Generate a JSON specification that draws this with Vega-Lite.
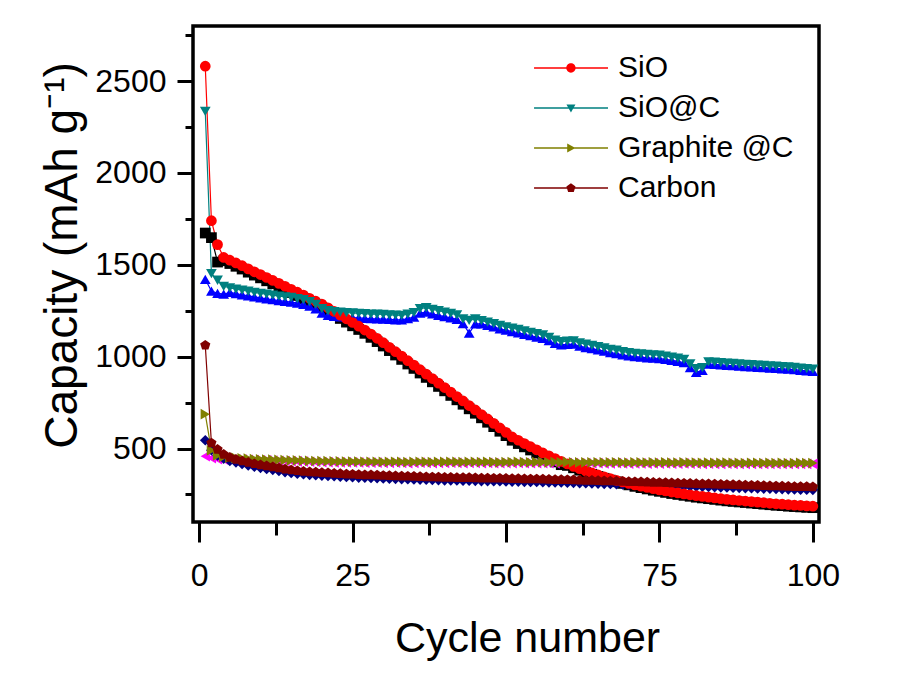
{
"$schema":"https://vega.github.io/schema/vega-lite/v6.json",
"width":626,"height":496,
"autosize":"none",
"padding":{"left":193,"top":26,"right":90,"bottom":162},
"background":"white",
"config":{
"view":{"stroke":"black","strokeWidth":3.5},
"font":"Liberation Sans",
"axis":{"domain":false,"grid":false,"tickColor":"black","tickWidth":3,"labelColor":"black","titleColor":"black","labelFont":"Liberation Sans","titleFont":"Liberation Sans","titleFontWeight":"normal"}
},
"data":{"values":[
{"s":"SiO-ch","c":1,"v":1673},{"s":"SiO-ch","c":2,"v":1648},{"s":"SiO-ch","c":3,"v":1515},{"s":"SiO-ch","c":4,"v":1522},{"s":"SiO-ch","c":5,"v":1507},{"s":"SiO-ch","c":6,"v":1492},{"s":"SiO-ch","c":7,"v":1477},{"s":"SiO-ch","c":8,"v":1460},{"s":"SiO-ch","c":9,"v":1444},{"s":"SiO-ch","c":10,"v":1429},
{"s":"SiO-ch","c":11,"v":1413},{"s":"SiO-ch","c":12,"v":1397},{"s":"SiO-ch","c":13,"v":1381},{"s":"SiO-ch","c":14,"v":1365},{"s":"SiO-ch","c":15,"v":1349},{"s":"SiO-ch","c":16,"v":1333},{"s":"SiO-ch","c":17,"v":1317},{"s":"SiO-ch","c":18,"v":1300},{"s":"SiO-ch","c":19,"v":1284},{"s":"SiO-ch","c":20,"v":1268},
{"s":"SiO-ch","c":21,"v":1248},{"s":"SiO-ch","c":22,"v":1228},{"s":"SiO-ch","c":23,"v":1208},{"s":"SiO-ch","c":24,"v":1188},{"s":"SiO-ch","c":25,"v":1168},{"s":"SiO-ch","c":26,"v":1148},{"s":"SiO-ch","c":27,"v":1127},{"s":"SiO-ch","c":28,"v":1105},{"s":"SiO-ch","c":29,"v":1082},{"s":"SiO-ch","c":30,"v":1058},
{"s":"SiO-ch","c":31,"v":1033},{"s":"SiO-ch","c":32,"v":1009},{"s":"SiO-ch","c":33,"v":985},{"s":"SiO-ch","c":34,"v":960},{"s":"SiO-ch","c":35,"v":936},{"s":"SiO-ch","c":36,"v":911},{"s":"SiO-ch","c":37,"v":887},{"s":"SiO-ch","c":38,"v":863},{"s":"SiO-ch","c":39,"v":838},{"s":"SiO-ch","c":40,"v":814},
{"s":"SiO-ch","c":41,"v":789},{"s":"SiO-ch","c":42,"v":765},{"s":"SiO-ch","c":43,"v":741},{"s":"SiO-ch","c":44,"v":716},{"s":"SiO-ch","c":45,"v":692},{"s":"SiO-ch","c":46,"v":667},{"s":"SiO-ch","c":47,"v":643},{"s":"SiO-ch","c":48,"v":619},{"s":"SiO-ch","c":49,"v":594},{"s":"SiO-ch","c":50,"v":570},
{"s":"SiO-ch","c":51,"v":545},{"s":"SiO-ch","c":52,"v":527},{"s":"SiO-ch","c":53,"v":509},{"s":"SiO-ch","c":54,"v":492},{"s":"SiO-ch","c":55,"v":475},{"s":"SiO-ch","c":56,"v":458},{"s":"SiO-ch","c":57,"v":442},{"s":"SiO-ch","c":58,"v":427},{"s":"SiO-ch","c":59,"v":412},{"s":"SiO-ch","c":60,"v":408},
{"s":"SiO-ch","c":61,"v":395},{"s":"SiO-ch","c":62,"v":382},{"s":"SiO-ch","c":63,"v":370},{"s":"SiO-ch","c":64,"v":359},{"s":"SiO-ch","c":65,"v":348},{"s":"SiO-ch","c":66,"v":338},{"s":"SiO-ch","c":67,"v":328},{"s":"SiO-ch","c":68,"v":319},{"s":"SiO-ch","c":69,"v":310},{"s":"SiO-ch","c":70,"v":302},
{"s":"SiO-ch","c":71,"v":294},{"s":"SiO-ch","c":72,"v":287},{"s":"SiO-ch","c":73,"v":280},{"s":"SiO-ch","c":74,"v":273},{"s":"SiO-ch","c":75,"v":267},{"s":"SiO-ch","c":76,"v":261},{"s":"SiO-ch","c":77,"v":255},{"s":"SiO-ch","c":78,"v":250},{"s":"SiO-ch","c":79,"v":245},{"s":"SiO-ch","c":80,"v":240},
{"s":"SiO-ch","c":81,"v":235},{"s":"SiO-ch","c":82,"v":231},{"s":"SiO-ch","c":83,"v":227},{"s":"SiO-ch","c":84,"v":223},{"s":"SiO-ch","c":85,"v":219},{"s":"SiO-ch","c":86,"v":215},{"s":"SiO-ch","c":87,"v":212},{"s":"SiO-ch","c":88,"v":209},{"s":"SiO-ch","c":89,"v":206},{"s":"SiO-ch","c":90,"v":203},
{"s":"SiO-ch","c":91,"v":200},{"s":"SiO-ch","c":92,"v":197},{"s":"SiO-ch","c":93,"v":194},{"s":"SiO-ch","c":94,"v":191},{"s":"SiO-ch","c":95,"v":189},{"s":"SiO-ch","c":96,"v":186},{"s":"SiO-ch","c":97,"v":184},{"s":"SiO-ch","c":98,"v":182},{"s":"SiO-ch","c":99,"v":180},{"s":"SiO-ch","c":100,"v":178},
{"s":"SiO@C-ch","c":1,"v":1421},{"s":"SiO@C-ch","c":2,"v":1357},{"s":"SiO@C-ch","c":3,"v":1345},{"s":"SiO@C-ch","c":4,"v":1340},{"s":"SiO@C-ch","c":5,"v":1350},{"s":"SiO@C-ch","c":6,"v":1343},{"s":"SiO@C-ch","c":7,"v":1337},{"s":"SiO@C-ch","c":8,"v":1331},{"s":"SiO@C-ch","c":9,"v":1325},{"s":"SiO@C-ch","c":10,"v":1320},
{"s":"SiO@C-ch","c":11,"v":1315},{"s":"SiO@C-ch","c":12,"v":1310},{"s":"SiO@C-ch","c":13,"v":1305},{"s":"SiO@C-ch","c":14,"v":1301},{"s":"SiO@C-ch","c":15,"v":1297},{"s":"SiO@C-ch","c":16,"v":1291},{"s":"SiO@C-ch","c":17,"v":1285},{"s":"SiO@C-ch","c":18,"v":1275},{"s":"SiO@C-ch","c":19,"v":1260},{"s":"SiO@C-ch","c":20,"v":1237},
{"s":"SiO@C-ch","c":21,"v":1225},{"s":"SiO@C-ch","c":22,"v":1220},{"s":"SiO@C-ch","c":23,"v":1217},{"s":"SiO@C-ch","c":24,"v":1215},{"s":"SiO@C-ch","c":25,"v":1213},{"s":"SiO@C-ch","c":26,"v":1211},{"s":"SiO@C-ch","c":27,"v":1209},{"s":"SiO@C-ch","c":28,"v":1207},{"s":"SiO@C-ch","c":29,"v":1206},{"s":"SiO@C-ch","c":30,"v":1205},
{"s":"SiO@C-ch","c":31,"v":1203},{"s":"SiO@C-ch","c":32,"v":1201},{"s":"SiO@C-ch","c":33,"v":1200},{"s":"SiO@C-ch","c":34,"v":1207},{"s":"SiO@C-ch","c":35,"v":1215},{"s":"SiO@C-ch","c":36,"v":1237},{"s":"SiO@C-ch","c":37,"v":1242},{"s":"SiO@C-ch","c":38,"v":1233},{"s":"SiO@C-ch","c":39,"v":1225},{"s":"SiO@C-ch","c":40,"v":1218},
{"s":"SiO@C-ch","c":41,"v":1211},{"s":"SiO@C-ch","c":42,"v":1203},{"s":"SiO@C-ch","c":43,"v":1180},{"s":"SiO@C-ch","c":44,"v":1128},{"s":"SiO@C-ch","c":45,"v":1178},{"s":"SiO@C-ch","c":46,"v":1178},{"s":"SiO@C-ch","c":47,"v":1170},{"s":"SiO@C-ch","c":48,"v":1162},{"s":"SiO@C-ch","c":49,"v":1152},{"s":"SiO@C-ch","c":50,"v":1144},
{"s":"SiO@C-ch","c":51,"v":1137},{"s":"SiO@C-ch","c":52,"v":1130},{"s":"SiO@C-ch","c":53,"v":1122},{"s":"SiO@C-ch","c":54,"v":1114},{"s":"SiO@C-ch","c":55,"v":1107},{"s":"SiO@C-ch","c":56,"v":1100},{"s":"SiO@C-ch","c":57,"v":1087},{"s":"SiO@C-ch","c":58,"v":1072},{"s":"SiO@C-ch","c":59,"v":1064},{"s":"SiO@C-ch","c":60,"v":1067},
{"s":"SiO@C-ch","c":61,"v":1068},{"s":"SiO@C-ch","c":62,"v":1057},{"s":"SiO@C-ch","c":63,"v":1050},{"s":"SiO@C-ch","c":64,"v":1044},{"s":"SiO@C-ch","c":65,"v":1037},{"s":"SiO@C-ch","c":66,"v":1030},{"s":"SiO@C-ch","c":67,"v":1022},{"s":"SiO@C-ch","c":68,"v":1017},{"s":"SiO@C-ch","c":69,"v":1010},{"s":"SiO@C-ch","c":70,"v":1004},
{"s":"SiO@C-ch","c":71,"v":1000},{"s":"SiO@C-ch","c":72,"v":997},{"s":"SiO@C-ch","c":73,"v":994},{"s":"SiO@C-ch","c":74,"v":992},{"s":"SiO@C-ch","c":75,"v":990},{"s":"SiO@C-ch","c":76,"v":985},{"s":"SiO@C-ch","c":77,"v":980},{"s":"SiO@C-ch","c":78,"v":974},{"s":"SiO@C-ch","c":79,"v":967},{"s":"SiO@C-ch","c":80,"v":940},
{"s":"SiO@C-ch","c":81,"v":915},{"s":"SiO@C-ch","c":82,"v":925},{"s":"SiO@C-ch","c":83,"v":960},{"s":"SiO@C-ch","c":84,"v":958},{"s":"SiO@C-ch","c":85,"v":956},{"s":"SiO@C-ch","c":86,"v":953},{"s":"SiO@C-ch","c":87,"v":951},{"s":"SiO@C-ch","c":88,"v":948},{"s":"SiO@C-ch","c":89,"v":946},{"s":"SiO@C-ch","c":90,"v":944},
{"s":"SiO@C-ch","c":91,"v":942},{"s":"SiO@C-ch","c":92,"v":940},{"s":"SiO@C-ch","c":93,"v":938},{"s":"SiO@C-ch","c":94,"v":936},{"s":"SiO@C-ch","c":95,"v":934},{"s":"SiO@C-ch","c":96,"v":932},{"s":"SiO@C-ch","c":97,"v":929},{"s":"SiO@C-ch","c":98,"v":926},{"s":"SiO@C-ch","c":99,"v":923},{"s":"SiO@C-ch","c":100,"v":920},
{"s":"Graphite @C-ch","c":1,"v":458},{"s":"Graphite @C-ch","c":2,"v":448},{"s":"Graphite @C-ch","c":3,"v":442},{"s":"Graphite @C-ch","c":4,"v":440},{"s":"Graphite @C-ch","c":5,"v":440},{"s":"Graphite @C-ch","c":6,"v":440},{"s":"Graphite @C-ch","c":7,"v":439},{"s":"Graphite @C-ch","c":8,"v":438},{"s":"Graphite @C-ch","c":9,"v":437},{"s":"Graphite @C-ch","c":10,"v":436},
{"s":"Graphite @C-ch","c":11,"v":435},{"s":"Graphite @C-ch","c":12,"v":434},{"s":"Graphite @C-ch","c":13,"v":433},{"s":"Graphite @C-ch","c":14,"v":432},{"s":"Graphite @C-ch","c":15,"v":431},{"s":"Graphite @C-ch","c":16,"v":430},{"s":"Graphite @C-ch","c":17,"v":429},{"s":"Graphite @C-ch","c":18,"v":428},{"s":"Graphite @C-ch","c":19,"v":427},{"s":"Graphite @C-ch","c":20,"v":426},
{"s":"Graphite @C-ch","c":21,"v":426},{"s":"Graphite @C-ch","c":22,"v":425},{"s":"Graphite @C-ch","c":23,"v":425},{"s":"Graphite @C-ch","c":24,"v":424},{"s":"Graphite @C-ch","c":25,"v":424},{"s":"Graphite @C-ch","c":26,"v":424},{"s":"Graphite @C-ch","c":27,"v":423},{"s":"Graphite @C-ch","c":28,"v":423},{"s":"Graphite @C-ch","c":29,"v":423},{"s":"Graphite @C-ch","c":30,"v":422},
{"s":"Graphite @C-ch","c":31,"v":422},{"s":"Graphite @C-ch","c":32,"v":423},{"s":"Graphite @C-ch","c":33,"v":422},{"s":"Graphite @C-ch","c":34,"v":421},{"s":"Graphite @C-ch","c":35,"v":422},{"s":"Graphite @C-ch","c":36,"v":423},{"s":"Graphite @C-ch","c":37,"v":422},{"s":"Graphite @C-ch","c":38,"v":421},{"s":"Graphite @C-ch","c":39,"v":422},{"s":"Graphite @C-ch","c":40,"v":422},
{"s":"Graphite @C-ch","c":41,"v":423},{"s":"Graphite @C-ch","c":42,"v":422},{"s":"Graphite @C-ch","c":43,"v":421},{"s":"Graphite @C-ch","c":44,"v":422},{"s":"Graphite @C-ch","c":45,"v":422},{"s":"Graphite @C-ch","c":46,"v":421},{"s":"Graphite @C-ch","c":47,"v":422},{"s":"Graphite @C-ch","c":48,"v":421},{"s":"Graphite @C-ch","c":49,"v":420},{"s":"Graphite @C-ch","c":50,"v":421},
{"s":"Graphite @C-ch","c":51,"v":421},{"s":"Graphite @C-ch","c":52,"v":422},{"s":"Graphite @C-ch","c":53,"v":421},{"s":"Graphite @C-ch","c":54,"v":420},{"s":"Graphite @C-ch","c":55,"v":421},{"s":"Graphite @C-ch","c":56,"v":421},{"s":"Graphite @C-ch","c":57,"v":420},{"s":"Graphite @C-ch","c":58,"v":421},{"s":"Graphite @C-ch","c":59,"v":420},{"s":"Graphite @C-ch","c":60,"v":421},
{"s":"Graphite @C-ch","c":61,"v":420},{"s":"Graphite @C-ch","c":62,"v":419},{"s":"Graphite @C-ch","c":63,"v":420},{"s":"Graphite @C-ch","c":64,"v":419},{"s":"Graphite @C-ch","c":65,"v":420},{"s":"Graphite @C-ch","c":66,"v":419},{"s":"Graphite @C-ch","c":67,"v":419},{"s":"Graphite @C-ch","c":68,"v":420},{"s":"Graphite @C-ch","c":69,"v":419},{"s":"Graphite @C-ch","c":70,"v":418},
{"s":"Graphite @C-ch","c":71,"v":419},{"s":"Graphite @C-ch","c":72,"v":419},{"s":"Graphite @C-ch","c":73,"v":418},{"s":"Graphite @C-ch","c":74,"v":419},{"s":"Graphite @C-ch","c":75,"v":418},{"s":"Graphite @C-ch","c":76,"v":419},{"s":"Graphite @C-ch","c":77,"v":418},{"s":"Graphite @C-ch","c":78,"v":418},{"s":"Graphite @C-ch","c":79,"v":419},{"s":"Graphite @C-ch","c":80,"v":418},
{"s":"Graphite @C-ch","c":81,"v":418},{"s":"Graphite @C-ch","c":82,"v":417},{"s":"Graphite @C-ch","c":83,"v":418},{"s":"Graphite @C-ch","c":84,"v":417},{"s":"Graphite @C-ch","c":85,"v":417},{"s":"Graphite @C-ch","c":86,"v":418},{"s":"Graphite @C-ch","c":87,"v":417},{"s":"Graphite @C-ch","c":88,"v":417},{"s":"Graphite @C-ch","c":89,"v":416},{"s":"Graphite @C-ch","c":90,"v":417},
{"s":"Graphite @C-ch","c":91,"v":417},{"s":"Graphite @C-ch","c":92,"v":416},{"s":"Graphite @C-ch","c":93,"v":417},{"s":"Graphite @C-ch","c":94,"v":416},{"s":"Graphite @C-ch","c":95,"v":417},{"s":"Graphite @C-ch","c":96,"v":416},{"s":"Graphite @C-ch","c":97,"v":416},{"s":"Graphite @C-ch","c":98,"v":417},{"s":"Graphite @C-ch","c":99,"v":416},{"s":"Graphite @C-ch","c":100,"v":416},
{"s":"Carbon-ch","c":1,"v":545},{"s":"Carbon-ch","c":2,"v":491},{"s":"Carbon-ch","c":3,"v":462},{"s":"Carbon-ch","c":4,"v":445},{"s":"Carbon-ch","c":5,"v":432},{"s":"Carbon-ch","c":6,"v":425},{"s":"Carbon-ch","c":7,"v":416},{"s":"Carbon-ch","c":8,"v":408},{"s":"Carbon-ch","c":9,"v":401},{"s":"Carbon-ch","c":10,"v":395},
{"s":"Carbon-ch","c":11,"v":389},{"s":"Carbon-ch","c":12,"v":384},{"s":"Carbon-ch","c":13,"v":378},{"s":"Carbon-ch","c":14,"v":372},{"s":"Carbon-ch","c":15,"v":367},{"s":"Carbon-ch","c":16,"v":363},{"s":"Carbon-ch","c":17,"v":360},{"s":"Carbon-ch","c":18,"v":357},{"s":"Carbon-ch","c":19,"v":355},{"s":"Carbon-ch","c":20,"v":353},
{"s":"Carbon-ch","c":21,"v":351},{"s":"Carbon-ch","c":22,"v":349},{"s":"Carbon-ch","c":23,"v":347},{"s":"Carbon-ch","c":24,"v":345},{"s":"Carbon-ch","c":25,"v":344},{"s":"Carbon-ch","c":26,"v":342},{"s":"Carbon-ch","c":27,"v":341},{"s":"Carbon-ch","c":28,"v":340},{"s":"Carbon-ch","c":29,"v":339},{"s":"Carbon-ch","c":30,"v":337},
{"s":"Carbon-ch","c":31,"v":336},{"s":"Carbon-ch","c":32,"v":335},{"s":"Carbon-ch","c":33,"v":334},{"s":"Carbon-ch","c":34,"v":333},{"s":"Carbon-ch","c":35,"v":332},{"s":"Carbon-ch","c":36,"v":331},{"s":"Carbon-ch","c":37,"v":330},{"s":"Carbon-ch","c":38,"v":329},{"s":"Carbon-ch","c":39,"v":328},{"s":"Carbon-ch","c":40,"v":327},
{"s":"Carbon-ch","c":41,"v":327},{"s":"Carbon-ch","c":42,"v":326},{"s":"Carbon-ch","c":43,"v":325},{"s":"Carbon-ch","c":44,"v":325},{"s":"Carbon-ch","c":45,"v":324},{"s":"Carbon-ch","c":46,"v":323},{"s":"Carbon-ch","c":47,"v":323},{"s":"Carbon-ch","c":48,"v":322},{"s":"Carbon-ch","c":49,"v":322},{"s":"Carbon-ch","c":50,"v":321},
{"s":"Carbon-ch","c":51,"v":320},{"s":"Carbon-ch","c":52,"v":320},{"s":"Carbon-ch","c":53,"v":319},{"s":"Carbon-ch","c":54,"v":318},{"s":"Carbon-ch","c":55,"v":318},{"s":"Carbon-ch","c":56,"v":317},{"s":"Carbon-ch","c":57,"v":316},{"s":"Carbon-ch","c":58,"v":315},{"s":"Carbon-ch","c":59,"v":315},{"s":"Carbon-ch","c":60,"v":314},
{"s":"Carbon-ch","c":61,"v":313},{"s":"Carbon-ch","c":62,"v":312},{"s":"Carbon-ch","c":63,"v":311},{"s":"Carbon-ch","c":64,"v":310},{"s":"Carbon-ch","c":65,"v":309},{"s":"Carbon-ch","c":66,"v":308},{"s":"Carbon-ch","c":67,"v":307},{"s":"Carbon-ch","c":68,"v":306},{"s":"Carbon-ch","c":69,"v":305},{"s":"Carbon-ch","c":70,"v":304},
{"s":"Carbon-ch","c":71,"v":303},{"s":"Carbon-ch","c":72,"v":302},{"s":"Carbon-ch","c":73,"v":301},{"s":"Carbon-ch","c":74,"v":300},{"s":"Carbon-ch","c":75,"v":299},{"s":"Carbon-ch","c":76,"v":298},{"s":"Carbon-ch","c":77,"v":297},{"s":"Carbon-ch","c":78,"v":296},{"s":"Carbon-ch","c":79,"v":295},{"s":"Carbon-ch","c":80,"v":294},
{"s":"Carbon-ch","c":81,"v":293},{"s":"Carbon-ch","c":82,"v":292},{"s":"Carbon-ch","c":83,"v":291},{"s":"Carbon-ch","c":84,"v":290},{"s":"Carbon-ch","c":85,"v":289},{"s":"Carbon-ch","c":86,"v":288},{"s":"Carbon-ch","c":87,"v":287},{"s":"Carbon-ch","c":88,"v":286},{"s":"Carbon-ch","c":89,"v":285},{"s":"Carbon-ch","c":90,"v":284},
{"s":"Carbon-ch","c":91,"v":283},{"s":"Carbon-ch","c":92,"v":282},{"s":"Carbon-ch","c":93,"v":281},{"s":"Carbon-ch","c":94,"v":280},{"s":"Carbon-ch","c":95,"v":279},{"s":"Carbon-ch","c":96,"v":278},{"s":"Carbon-ch","c":97,"v":277},{"s":"Carbon-ch","c":98,"v":276},{"s":"Carbon-ch","c":99,"v":276},{"s":"Carbon-ch","c":100,"v":275},
{"s":"SiO","c":1,"v":2581},{"s":"SiO","c":2,"v":1740},{"s":"SiO","c":3,"v":1610},{"s":"SiO","c":4,"v":1540},{"s":"SiO","c":5,"v":1525},{"s":"SiO","c":6,"v":1510},{"s":"SiO","c":7,"v":1495},{"s":"SiO","c":8,"v":1478},{"s":"SiO","c":9,"v":1462},{"s":"SiO","c":10,"v":1447},
{"s":"SiO","c":11,"v":1431},{"s":"SiO","c":12,"v":1415},{"s":"SiO","c":13,"v":1399},{"s":"SiO","c":14,"v":1383},{"s":"SiO","c":15,"v":1367},{"s":"SiO","c":16,"v":1351},{"s":"SiO","c":17,"v":1335},{"s":"SiO","c":18,"v":1318},{"s":"SiO","c":19,"v":1302},{"s":"SiO","c":20,"v":1286},
{"s":"SiO","c":21,"v":1266},{"s":"SiO","c":22,"v":1246},{"s":"SiO","c":23,"v":1226},{"s":"SiO","c":24,"v":1206},{"s":"SiO","c":25,"v":1186},{"s":"SiO","c":26,"v":1166},{"s":"SiO","c":27,"v":1145},{"s":"SiO","c":28,"v":1123},{"s":"SiO","c":29,"v":1100},{"s":"SiO","c":30,"v":1076},
{"s":"SiO","c":31,"v":1051},{"s":"SiO","c":32,"v":1027},{"s":"SiO","c":33,"v":1003},{"s":"SiO","c":34,"v":978},{"s":"SiO","c":35,"v":954},{"s":"SiO","c":36,"v":929},{"s":"SiO","c":37,"v":905},{"s":"SiO","c":38,"v":881},{"s":"SiO","c":39,"v":856},{"s":"SiO","c":40,"v":832},
{"s":"SiO","c":41,"v":807},{"s":"SiO","c":42,"v":783},{"s":"SiO","c":43,"v":759},{"s":"SiO","c":44,"v":734},{"s":"SiO","c":45,"v":710},{"s":"SiO","c":46,"v":685},{"s":"SiO","c":47,"v":661},{"s":"SiO","c":48,"v":637},{"s":"SiO","c":49,"v":612},{"s":"SiO","c":50,"v":588},
{"s":"SiO","c":51,"v":563},{"s":"SiO","c":52,"v":545},{"s":"SiO","c":53,"v":527},{"s":"SiO","c":54,"v":510},{"s":"SiO","c":55,"v":493},{"s":"SiO","c":56,"v":476},{"s":"SiO","c":57,"v":460},{"s":"SiO","c":58,"v":445},{"s":"SiO","c":59,"v":430},{"s":"SiO","c":60,"v":416},
{"s":"SiO","c":61,"v":403},{"s":"SiO","c":62,"v":390},{"s":"SiO","c":63,"v":378},{"s":"SiO","c":64,"v":367},{"s":"SiO","c":65,"v":356},{"s":"SiO","c":66,"v":346},{"s":"SiO","c":67,"v":336},{"s":"SiO","c":68,"v":327},{"s":"SiO","c":69,"v":318},{"s":"SiO","c":70,"v":310},
{"s":"SiO","c":71,"v":302},{"s":"SiO","c":72,"v":295},{"s":"SiO","c":73,"v":288},{"s":"SiO","c":74,"v":281},{"s":"SiO","c":75,"v":275},{"s":"SiO","c":76,"v":269},{"s":"SiO","c":77,"v":263},{"s":"SiO","c":78,"v":258},{"s":"SiO","c":79,"v":253},{"s":"SiO","c":80,"v":248},
{"s":"SiO","c":81,"v":243},{"s":"SiO","c":82,"v":239},{"s":"SiO","c":83,"v":235},{"s":"SiO","c":84,"v":231},{"s":"SiO","c":85,"v":227},{"s":"SiO","c":86,"v":223},{"s":"SiO","c":87,"v":220},{"s":"SiO","c":88,"v":217},{"s":"SiO","c":89,"v":214},{"s":"SiO","c":90,"v":211},
{"s":"SiO","c":91,"v":208},{"s":"SiO","c":92,"v":205},{"s":"SiO","c":93,"v":202},{"s":"SiO","c":94,"v":199},{"s":"SiO","c":95,"v":197},{"s":"SiO","c":96,"v":194},{"s":"SiO","c":97,"v":192},{"s":"SiO","c":98,"v":190},{"s":"SiO","c":99,"v":188},{"s":"SiO","c":100,"v":186},
{"s":"SiO@C","c":1,"v":2335},{"s":"SiO@C","c":2,"v":1452},{"s":"SiO@C","c":3,"v":1416},{"s":"SiO@C","c":4,"v":1383},{"s":"SiO@C","c":5,"v":1375},{"s":"SiO@C","c":6,"v":1368},{"s":"SiO@C","c":7,"v":1362},{"s":"SiO@C","c":8,"v":1356},{"s":"SiO@C","c":9,"v":1350},{"s":"SiO@C","c":10,"v":1345},
{"s":"SiO@C","c":11,"v":1340},{"s":"SiO@C","c":12,"v":1335},{"s":"SiO@C","c":13,"v":1330},{"s":"SiO@C","c":14,"v":1326},{"s":"SiO@C","c":15,"v":1322},{"s":"SiO@C","c":16,"v":1316},{"s":"SiO@C","c":17,"v":1310},{"s":"SiO@C","c":18,"v":1300},{"s":"SiO@C","c":19,"v":1285},{"s":"SiO@C","c":20,"v":1262},
{"s":"SiO@C","c":21,"v":1250},{"s":"SiO@C","c":22,"v":1245},{"s":"SiO@C","c":23,"v":1242},{"s":"SiO@C","c":24,"v":1240},{"s":"SiO@C","c":25,"v":1238},{"s":"SiO@C","c":26,"v":1236},{"s":"SiO@C","c":27,"v":1234},{"s":"SiO@C","c":28,"v":1232},{"s":"SiO@C","c":29,"v":1231},{"s":"SiO@C","c":30,"v":1230},
{"s":"SiO@C","c":31,"v":1228},{"s":"SiO@C","c":32,"v":1226},{"s":"SiO@C","c":33,"v":1225},{"s":"SiO@C","c":34,"v":1232},{"s":"SiO@C","c":35,"v":1240},{"s":"SiO@C","c":36,"v":1262},{"s":"SiO@C","c":37,"v":1267},{"s":"SiO@C","c":38,"v":1258},{"s":"SiO@C","c":39,"v":1250},{"s":"SiO@C","c":40,"v":1243},
{"s":"SiO@C","c":41,"v":1236},{"s":"SiO@C","c":42,"v":1228},{"s":"SiO@C","c":43,"v":1205},{"s":"SiO@C","c":44,"v":1198},{"s":"SiO@C","c":45,"v":1205},{"s":"SiO@C","c":46,"v":1196},{"s":"SiO@C","c":47,"v":1188},{"s":"SiO@C","c":48,"v":1180},{"s":"SiO@C","c":49,"v":1170},{"s":"SiO@C","c":50,"v":1162},
{"s":"SiO@C","c":51,"v":1155},{"s":"SiO@C","c":52,"v":1148},{"s":"SiO@C","c":53,"v":1140},{"s":"SiO@C","c":54,"v":1132},{"s":"SiO@C","c":55,"v":1125},{"s":"SiO@C","c":56,"v":1118},{"s":"SiO@C","c":57,"v":1105},{"s":"SiO@C","c":58,"v":1090},{"s":"SiO@C","c":59,"v":1082},{"s":"SiO@C","c":60,"v":1085},
{"s":"SiO@C","c":61,"v":1086},{"s":"SiO@C","c":62,"v":1075},{"s":"SiO@C","c":63,"v":1068},{"s":"SiO@C","c":64,"v":1062},{"s":"SiO@C","c":65,"v":1055},{"s":"SiO@C","c":66,"v":1048},{"s":"SiO@C","c":67,"v":1040},{"s":"SiO@C","c":68,"v":1035},{"s":"SiO@C","c":69,"v":1028},{"s":"SiO@C","c":70,"v":1022},
{"s":"SiO@C","c":71,"v":1018},{"s":"SiO@C","c":72,"v":1015},{"s":"SiO@C","c":73,"v":1012},{"s":"SiO@C","c":74,"v":1010},{"s":"SiO@C","c":75,"v":1008},{"s":"SiO@C","c":76,"v":1003},{"s":"SiO@C","c":77,"v":998},{"s":"SiO@C","c":78,"v":992},{"s":"SiO@C","c":79,"v":985},{"s":"SiO@C","c":80,"v":960},
{"s":"SiO@C","c":81,"v":935},{"s":"SiO@C","c":82,"v":940},{"s":"SiO@C","c":83,"v":972},{"s":"SiO@C","c":84,"v":970},{"s":"SiO@C","c":85,"v":968},{"s":"SiO@C","c":86,"v":965},{"s":"SiO@C","c":87,"v":963},{"s":"SiO@C","c":88,"v":960},{"s":"SiO@C","c":89,"v":958},{"s":"SiO@C","c":90,"v":956},
{"s":"SiO@C","c":91,"v":954},{"s":"SiO@C","c":92,"v":952},{"s":"SiO@C","c":93,"v":950},{"s":"SiO@C","c":94,"v":948},{"s":"SiO@C","c":95,"v":946},{"s":"SiO@C","c":96,"v":944},{"s":"SiO@C","c":97,"v":941},{"s":"SiO@C","c":98,"v":938},{"s":"SiO@C","c":99,"v":935},{"s":"SiO@C","c":100,"v":932},
{"s":"Graphite @C","c":1,"v":687},{"s":"Graphite @C","c":2,"v":490},{"s":"Graphite @C","c":3,"v":462},{"s":"Graphite @C","c":4,"v":455},{"s":"Graphite @C","c":5,"v":451},{"s":"Graphite @C","c":6,"v":449},{"s":"Graphite @C","c":7,"v":447},{"s":"Graphite @C","c":8,"v":445},{"s":"Graphite @C","c":9,"v":443},{"s":"Graphite @C","c":10,"v":441},
{"s":"Graphite @C","c":11,"v":440},{"s":"Graphite @C","c":12,"v":439},{"s":"Graphite @C","c":13,"v":438},{"s":"Graphite @C","c":14,"v":437},{"s":"Graphite @C","c":15,"v":436},{"s":"Graphite @C","c":16,"v":435},{"s":"Graphite @C","c":17,"v":434},{"s":"Graphite @C","c":18,"v":433},{"s":"Graphite @C","c":19,"v":432},{"s":"Graphite @C","c":20,"v":431},
{"s":"Graphite @C","c":21,"v":431},{"s":"Graphite @C","c":22,"v":430},{"s":"Graphite @C","c":23,"v":430},{"s":"Graphite @C","c":24,"v":429},{"s":"Graphite @C","c":25,"v":429},{"s":"Graphite @C","c":26,"v":429},{"s":"Graphite @C","c":27,"v":428},{"s":"Graphite @C","c":28,"v":428},{"s":"Graphite @C","c":29,"v":428},{"s":"Graphite @C","c":30,"v":427},
{"s":"Graphite @C","c":31,"v":427},{"s":"Graphite @C","c":32,"v":428},{"s":"Graphite @C","c":33,"v":427},{"s":"Graphite @C","c":34,"v":426},{"s":"Graphite @C","c":35,"v":427},{"s":"Graphite @C","c":36,"v":428},{"s":"Graphite @C","c":37,"v":427},{"s":"Graphite @C","c":38,"v":426},{"s":"Graphite @C","c":39,"v":427},{"s":"Graphite @C","c":40,"v":427},
{"s":"Graphite @C","c":41,"v":428},{"s":"Graphite @C","c":42,"v":427},{"s":"Graphite @C","c":43,"v":426},{"s":"Graphite @C","c":44,"v":427},{"s":"Graphite @C","c":45,"v":427},{"s":"Graphite @C","c":46,"v":426},{"s":"Graphite @C","c":47,"v":427},{"s":"Graphite @C","c":48,"v":426},{"s":"Graphite @C","c":49,"v":425},{"s":"Graphite @C","c":50,"v":426},
{"s":"Graphite @C","c":51,"v":426},{"s":"Graphite @C","c":52,"v":427},{"s":"Graphite @C","c":53,"v":426},{"s":"Graphite @C","c":54,"v":425},{"s":"Graphite @C","c":55,"v":426},{"s":"Graphite @C","c":56,"v":426},{"s":"Graphite @C","c":57,"v":425},{"s":"Graphite @C","c":58,"v":426},{"s":"Graphite @C","c":59,"v":425},{"s":"Graphite @C","c":60,"v":426},
{"s":"Graphite @C","c":61,"v":425},{"s":"Graphite @C","c":62,"v":424},{"s":"Graphite @C","c":63,"v":425},{"s":"Graphite @C","c":64,"v":424},{"s":"Graphite @C","c":65,"v":425},{"s":"Graphite @C","c":66,"v":424},{"s":"Graphite @C","c":67,"v":424},{"s":"Graphite @C","c":68,"v":425},{"s":"Graphite @C","c":69,"v":424},{"s":"Graphite @C","c":70,"v":423},
{"s":"Graphite @C","c":71,"v":424},{"s":"Graphite @C","c":72,"v":424},{"s":"Graphite @C","c":73,"v":423},{"s":"Graphite @C","c":74,"v":424},{"s":"Graphite @C","c":75,"v":423},{"s":"Graphite @C","c":76,"v":424},{"s":"Graphite @C","c":77,"v":423},{"s":"Graphite @C","c":78,"v":423},{"s":"Graphite @C","c":79,"v":424},{"s":"Graphite @C","c":80,"v":423},
{"s":"Graphite @C","c":81,"v":423},{"s":"Graphite @C","c":82,"v":422},{"s":"Graphite @C","c":83,"v":423},{"s":"Graphite @C","c":84,"v":422},{"s":"Graphite @C","c":85,"v":422},{"s":"Graphite @C","c":86,"v":423},{"s":"Graphite @C","c":87,"v":422},{"s":"Graphite @C","c":88,"v":422},{"s":"Graphite @C","c":89,"v":421},{"s":"Graphite @C","c":90,"v":422},
{"s":"Graphite @C","c":91,"v":422},{"s":"Graphite @C","c":92,"v":421},{"s":"Graphite @C","c":93,"v":422},{"s":"Graphite @C","c":94,"v":421},{"s":"Graphite @C","c":95,"v":422},{"s":"Graphite @C","c":96,"v":421},{"s":"Graphite @C","c":97,"v":421},{"s":"Graphite @C","c":98,"v":422},{"s":"Graphite @C","c":99,"v":421},{"s":"Graphite @C","c":100,"v":421},
{"s":"Carbon","c":1,"v":1062},{"s":"Carbon","c":2,"v":530},{"s":"Carbon","c":3,"v":495},{"s":"Carbon","c":4,"v":468},{"s":"Carbon","c":5,"v":452},{"s":"Carbon","c":6,"v":441},{"s":"Carbon","c":7,"v":432},{"s":"Carbon","c":8,"v":424},{"s":"Carbon","c":9,"v":417},{"s":"Carbon","c":10,"v":411},
{"s":"Carbon","c":11,"v":405},{"s":"Carbon","c":12,"v":400},{"s":"Carbon","c":13,"v":394},{"s":"Carbon","c":14,"v":388},{"s":"Carbon","c":15,"v":383},{"s":"Carbon","c":16,"v":379},{"s":"Carbon","c":17,"v":376},{"s":"Carbon","c":18,"v":373},{"s":"Carbon","c":19,"v":371},{"s":"Carbon","c":20,"v":369},
{"s":"Carbon","c":21,"v":367},{"s":"Carbon","c":22,"v":365},{"s":"Carbon","c":23,"v":363},{"s":"Carbon","c":24,"v":361},{"s":"Carbon","c":25,"v":360},{"s":"Carbon","c":26,"v":358},{"s":"Carbon","c":27,"v":357},{"s":"Carbon","c":28,"v":356},{"s":"Carbon","c":29,"v":355},{"s":"Carbon","c":30,"v":353},
{"s":"Carbon","c":31,"v":352},{"s":"Carbon","c":32,"v":351},{"s":"Carbon","c":33,"v":350},{"s":"Carbon","c":34,"v":349},{"s":"Carbon","c":35,"v":348},{"s":"Carbon","c":36,"v":347},{"s":"Carbon","c":37,"v":346},{"s":"Carbon","c":38,"v":345},{"s":"Carbon","c":39,"v":344},{"s":"Carbon","c":40,"v":343},
{"s":"Carbon","c":41,"v":343},{"s":"Carbon","c":42,"v":342},{"s":"Carbon","c":43,"v":341},{"s":"Carbon","c":44,"v":341},{"s":"Carbon","c":45,"v":340},{"s":"Carbon","c":46,"v":339},{"s":"Carbon","c":47,"v":339},{"s":"Carbon","c":48,"v":338},{"s":"Carbon","c":49,"v":338},{"s":"Carbon","c":50,"v":337},
{"s":"Carbon","c":51,"v":336},{"s":"Carbon","c":52,"v":336},{"s":"Carbon","c":53,"v":335},{"s":"Carbon","c":54,"v":334},{"s":"Carbon","c":55,"v":334},{"s":"Carbon","c":56,"v":333},{"s":"Carbon","c":57,"v":332},{"s":"Carbon","c":58,"v":331},{"s":"Carbon","c":59,"v":331},{"s":"Carbon","c":60,"v":330},
{"s":"Carbon","c":61,"v":329},{"s":"Carbon","c":62,"v":328},{"s":"Carbon","c":63,"v":327},{"s":"Carbon","c":64,"v":326},{"s":"Carbon","c":65,"v":325},{"s":"Carbon","c":66,"v":324},{"s":"Carbon","c":67,"v":323},{"s":"Carbon","c":68,"v":322},{"s":"Carbon","c":69,"v":321},{"s":"Carbon","c":70,"v":320},
{"s":"Carbon","c":71,"v":319},{"s":"Carbon","c":72,"v":318},{"s":"Carbon","c":73,"v":317},{"s":"Carbon","c":74,"v":316},{"s":"Carbon","c":75,"v":315},{"s":"Carbon","c":76,"v":314},{"s":"Carbon","c":77,"v":313},{"s":"Carbon","c":78,"v":312},{"s":"Carbon","c":79,"v":311},{"s":"Carbon","c":80,"v":310},
{"s":"Carbon","c":81,"v":309},{"s":"Carbon","c":82,"v":308},{"s":"Carbon","c":83,"v":307},{"s":"Carbon","c":84,"v":306},{"s":"Carbon","c":85,"v":305},{"s":"Carbon","c":86,"v":304},{"s":"Carbon","c":87,"v":303},{"s":"Carbon","c":88,"v":302},{"s":"Carbon","c":89,"v":301},{"s":"Carbon","c":90,"v":300},
{"s":"Carbon","c":91,"v":299},{"s":"Carbon","c":92,"v":298},{"s":"Carbon","c":93,"v":297},{"s":"Carbon","c":94,"v":296},{"s":"Carbon","c":95,"v":295},{"s":"Carbon","c":96,"v":294},{"s":"Carbon","c":97,"v":293},{"s":"Carbon","c":98,"v":292},{"s":"Carbon","c":99,"v":292},{"s":"Carbon","c":100,"v":291}
]},
"resolve":{"scale":{"color":"independent","shape":"independent"},"axis":{"x":"independent","y":"independent"}},
"layer":[
{"mark":{"type":"line","strokeWidth":1.2},
"encoding":{
"x":{"field":"c","type":"quantitative","scale":{"domain":[-1,101],"nice":false,"zero":false},
"axis":{"orient":"bottom","values":[0,25,50,75,100],"tickSize":20,"labelFontSize":32,"labelPadding":18,"title":"Cycle number","titleFontSize":43,"titleX":334,"titleY":129,"titleAlign":"center","titleBaseline":"alphabetic","titleAnchor":"start"}},
"y":{"field":"v","type":"quantitative","scale":{"domain":[100,2800],"nice":false,"zero":false},
"axis":{"orient":"left","values":[500,1000,1500,2000,2500],"format":"d","tickSize":16,"labelFontSize":32,"labelPadding":11,"title":"Capacity (mAh g⁻¹)","titleFontSize":46,"titleAngle":-90,"titleX":-117,"titleY":229,"titleAlign":"center","titleBaseline":"alphabetic","titleAnchor":"start"}},
"color":{"field":"s","type":"nominal","scale":{"domain":["SiO-ch","SiO@C-ch","Graphite @C-ch","Carbon-ch","SiO","SiO@C","Graphite @C","Carbon"],"range":["#000000","#0000ff","#ff00ff","#000080","#ff0000","#008080","#808000","#800000"]},"legend":null}
}},
{"mark":{"type":"point","filled":true,"size":115,"opacity":1},
"encoding":{
"x":{"field":"c","type":"quantitative","axis":{"orient":"bottom","values":[12.5,37.5,62.5,87.5],"tickSize":13,"labels":false,"title":null,"domain":false}},
"y":{"field":"v","type":"quantitative","axis":{"orient":"left","values":[250,750,1250,1750,2250,2750],"tickSize":8,"labels":false,"title":null,"domain":false}},
"color":{"field":"s","type":"nominal","scale":{"domain":["SiO-ch","SiO@C-ch","Graphite @C-ch","Carbon-ch","SiO","SiO@C","Graphite @C","Carbon"],"range":["#000000","#0000ff","#ff00ff","#000080","#ff0000","#008080","#808000","#800000"]},"legend":null},
"shape":{"field":"s","type":"nominal","scale":{"domain":["SiO-ch","SiO@C-ch","Graphite @C-ch","Carbon-ch","SiO","SiO@C","Graphite @C","Carbon"],"range":["square","triangle-up","triangle-left","diamond","circle","triangle-down","triangle-right","M0,-1L0.951,-0.309L0.588,0.809L-0.588,0.809L-0.951,-0.309Z"]},"legend":null}
}},
{"transform":[{"filter":"false"}],
"mark":{"type":"point","filled":true,"size":900,"opacity":1},
"encoding":{
"color":{"field":"s","type":"nominal","scale":{"domain":["SiO","SiO@C","Graphite @C","Carbon"],"range":["#ff0000","#008080","#808000","#800000"]},
"legend":{"title":null,"orient":"none","legendX":385,"legendY":27,"padding":0,"labelFont":"Liberation Sans","labelFontSize":30,"labelColor":"black","labelOffset":10,"rowPadding":10,"symbolSize":900,"symbolStrokeWidth":0,"symbolOpacity":1,"labelLimit":400}},
"shape":{"field":"s","type":"nominal","scale":{"domain":["SiO","SiO@C","Graphite @C","Carbon"],"range":[
"M-3.93,-0.045H1V0.045H-3.93ZM-1.16,0A0.31,0.31 0 1,1 -1.78,0A0.31,0.31 0 1,1 -1.16,0Z",
"M-3.93,-0.045H1V0.045H-3.93ZM-1.77,-0.23L-1.17,-0.23L-1.47,0.3Z",
"M-3.93,-0.045H1V0.045H-3.93ZM-1.72,-0.3L-1.17,0L-1.72,0.3Z",
"M-3.93,-0.045H1V0.045H-3.93ZM-1.47,-0.32L-1.166,-0.099L-1.282,0.259L-1.658,0.259L-1.774,-0.099Z"]},
"legend":{"title":null,"orient":"none","legendX":385,"legendY":27,"padding":0,"labelFont":"Liberation Sans","labelFontSize":30,"labelColor":"black","labelOffset":10,"rowPadding":10,"symbolSize":900,"symbolStrokeWidth":0,"symbolOpacity":1,"labelLimit":400}}
}}
]
}
